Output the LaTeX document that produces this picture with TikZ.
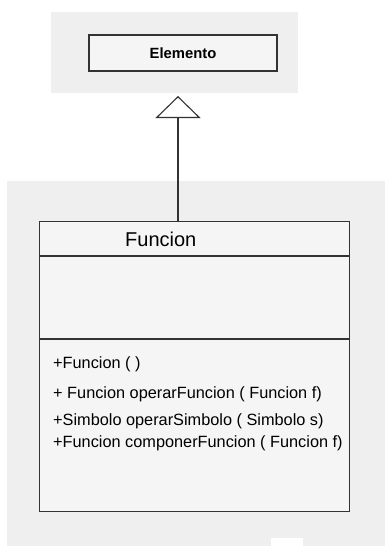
\documentclass[tikz,border=0pt]{standalone}
\usepackage{fontspec}
\setmainfont{Liberation Sans}
\usetikzlibrary{arrows.meta}
\definecolor{panelgray}{HTML}{EFEFEF}
\definecolor{boxfill}{HTML}{F5F5F5}
\definecolor{linecol}{HTML}{333333}
\tikzset{
  panel/.style={fill=panelgray, draw=none},
  umlbox/.style={draw=linecol, fill=boxfill, line width=1.1pt, inner sep=0pt},
  member/.style={anchor=west, inner sep=0pt, font=\fontsize{16.3}{19}\selectfont},
  inherit/.style={draw=linecol, line width=1.1pt, -{Triangle[open, length=22pt, width=45pt, fill=white]}}
}
\begin{document}
\begin{tikzpicture}[x=1pt, y=-1pt]
\useasboundingbox (0,0) rectangle (385,546);
% panels
\fill[panel] (51,12) rectangle (298,93);
\fill[panel] (7,181) rectangle (385,546);
\fill[white] (271,538) rectangle (303,546);
% Elemento
\node[umlbox, minimum width=188pt, minimum height=36pt, font=\bfseries\fontsize{14.8}{17}\selectfont] (ele) at (183,53) {Elemento};
% Funcion
\node[umlbox, anchor=north west, minimum width=310pt, minimum height=290pt] (fun) at (39,221) {};
\draw[draw=linecol, line width=1.1pt] (fun.west |- 0,256) -- (fun.east |- 0,256);
\draw[draw=linecol, line width=1.1pt] (fun.west |- 0,339) -- (fun.east |- 0,339);
\node[anchor=west, inner sep=0pt, font=\fontsize{20}{23}\selectfont] (title) at (125,239) {Funcion};
\node[member] (m1) at (53,364) {+Funcion ( )};
\node[member] (m2) at (53,394) {+ Funcion operarFuncion ( Funcion f)};
\node[member] (m3) at (53,421) {+Simbolo operarSimbolo ( Simbolo s)};
\node[member] (m4) at (53,443) {+Funcion componerFuncion ( Funcion f)};
% inheritance
\coordinate (tip) at (178,96);
\draw[inherit] (fun.north -| tip) -- (tip);
\end{tikzpicture}
\end{document}
